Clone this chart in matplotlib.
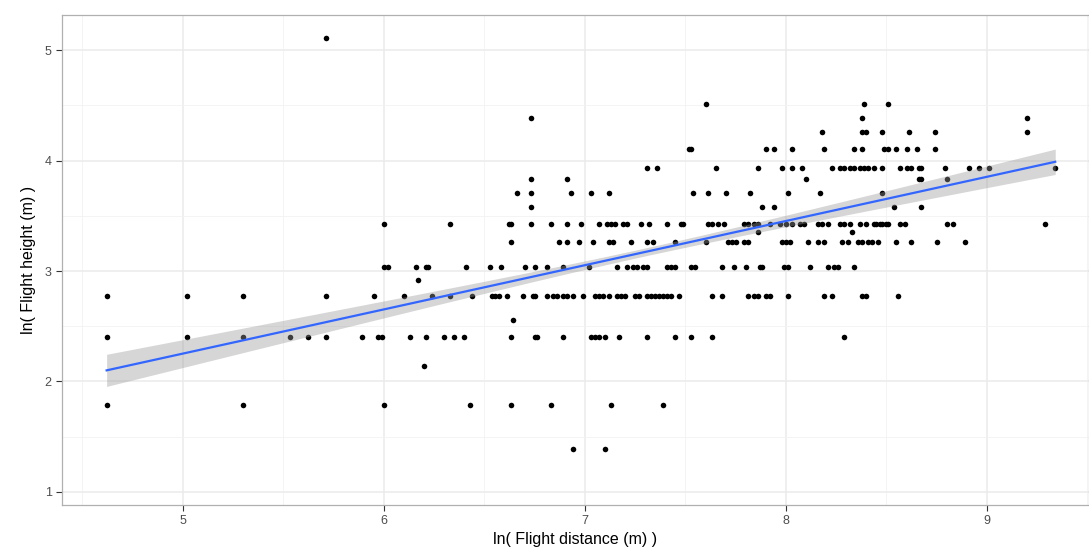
import numpy as np
import matplotlib
matplotlib.use("Agg")
import matplotlib.pyplot as plt
from matplotlib.ticker import MultipleLocator

# ---- data: ln(flight distance) values grouped by ln(flight height) level ----
h_511 = [5.71]
h_451 = [7.60, 8.39, 8.51]
h_439 = [6.73, 8.38, 9.20]
h_426 = [8.18, 8.38, 8.40, 8.48, 8.61, 8.74, 9.20]
h_411 = [7.52, 7.53, 7.90, 7.94, 8.03, 8.19, 8.34, 8.38, 8.49, 8.51, 8.55, 8.60, 8.65, 8.74]
h_393 = [7.31, 7.36, 7.65, 7.86, 7.98, 8.03, 8.08, 8.23, 8.27, 8.29, 8.32, 8.34, 8.37,
         8.39, 8.41, 8.44, 8.48, 8.57, 8.60, 8.62, 8.66, 8.67, 8.79, 8.91, 8.96, 9.01, 9.34]
h_383 = [6.73, 6.91, 8.10, 8.66, 8.67, 8.80]
h_371 = [6.66, 6.73, 6.93, 7.03, 7.12, 7.54, 7.61, 7.70, 7.82, 8.01, 8.17, 8.48]
h_358 = [6.73, 7.88, 7.94, 8.54, 8.67]
h_343 = [6.00, 6.33, 6.62, 6.63, 6.73, 6.83, 6.91, 6.98, 7.07, 7.11, 7.13, 7.15, 7.19,
         7.21, 7.28, 7.32, 7.41, 7.48, 7.49, 7.61, 7.63, 7.66, 7.69, 7.79, 7.81, 7.84,
         7.86, 7.92, 7.97, 8.00, 8.03, 8.07, 8.09, 8.16, 8.18, 8.21, 8.27, 8.29, 8.32,
         8.37, 8.40, 8.44, 8.45, 8.47, 8.48, 8.50, 8.51, 8.57, 8.59, 8.80, 8.83, 9.29]
h_335 = [7.86, 8.33]
h_326 = [6.63, 6.87, 6.91, 6.97, 7.04, 7.12, 7.14, 7.23, 7.31, 7.34, 7.45, 7.60, 7.71,
         7.73, 7.75, 7.79, 7.81, 7.98, 8.00, 8.02, 8.11, 8.16, 8.19, 8.28, 8.31, 8.36,
         8.38, 8.41, 8.43, 8.46, 8.55, 8.62, 8.75, 8.89]
h_304 = [6.00, 6.02, 6.16, 6.21, 6.22, 6.41, 6.53, 6.58, 6.70, 6.75, 6.81, 6.89, 7.02,
         7.16, 7.21, 7.24, 7.26, 7.29, 7.31, 7.41, 7.43, 7.45, 7.53, 7.55, 7.68, 7.74,
         7.80, 7.87, 7.88, 7.99, 8.01, 8.12, 8.21, 8.24, 8.26, 8.34]
h_292 = [6.17]
h_277 = [4.62, 5.02, 5.30, 5.71, 5.95, 6.10, 6.24, 6.33, 6.44, 6.54, 6.55, 6.57, 6.61,
         6.69, 6.74, 6.75, 6.81, 6.84, 6.86, 6.89, 6.91, 6.94, 6.99, 7.05, 7.07, 7.09,
         7.12, 7.16, 7.18, 7.20, 7.25, 7.27, 7.31, 7.33, 7.35, 7.37, 7.39, 7.41, 7.43,
         7.47, 7.63, 7.68, 7.81, 7.84, 7.86, 7.90, 7.92, 8.01, 8.19, 8.23, 8.38, 8.40, 8.56]
h_256 = [6.64]
h_240 = [4.62, 5.02, 5.30, 5.53, 5.62, 5.71, 5.89, 5.97, 5.99, 6.13, 6.21, 6.30, 6.35,
         6.40, 6.63, 6.75, 6.76, 6.89, 7.03, 7.05, 7.07, 7.10, 7.17, 7.31, 7.45, 7.53,
         7.63, 8.29]
h_214 = [6.20]
h_179 = [4.62, 5.30, 6.00, 6.43, 6.63, 6.83, 7.13, 7.39]
h_139 = [6.94, 7.10]

levels = [(5.11, h_511), (4.51, h_451), (4.39, h_439), (4.26, h_426), (4.11, h_411),
          (3.93, h_393), (3.83, h_383), (3.71, h_371), (3.58, h_358), (3.43, h_343),
          (3.35, h_335), (3.26, h_326), (3.04, h_304), (2.92, h_292), (2.77, h_277),
          (2.56, h_256), (2.40, h_240), (2.14, h_214), (1.79, h_179), (1.39, h_139)]

# ---- fitted linear trend (full data has overlapping points) ----
fit_x_range = [4.62, 9.34]        # span of the smoother
fit_y_ends = [2.10, 3.99]         # fitted values at the span ends
band_center = 7.28                # x where the 95% band is narrowest
band_min_half = 0.036             # half-width of band at its narrowest
band_spread = 0.053               # growth of the half-width away from the centre

x = np.concatenate([np.array(xs, float) for _, xs in levels])
y = np.concatenate([np.full(len(xs), lv) for lv, xs in levels])

slope = (fit_y_ends[1] - fit_y_ends[0]) / (fit_x_range[1] - fit_x_range[0])
xg = np.linspace(fit_x_range[0], fit_x_range[1], 200)
yg = fit_y_ends[0] + slope * (xg - fit_x_range[0])
half = np.sqrt(band_min_half ** 2 + band_spread ** 2 * (xg - band_center) ** 2)

plt.rcParams['font.family'] = ['Liberation Sans', 'DejaVu Sans']
fig = plt.figure(figsize=(10.89, 5.52), dpi=100)
ax = fig.add_axes([62 / 1089, 1 - 505 / 552, 1 - 62 / 1089, (505 - 15) / 552])

ax.set_xlim(4.398, 9.508)
ax.set_ylim(0.88, 5.32)
ax.xaxis.set_major_locator(MultipleLocator(1))
ax.xaxis.set_minor_locator(MultipleLocator(0.5))
ax.yaxis.set_major_locator(MultipleLocator(1))
ax.yaxis.set_minor_locator(MultipleLocator(0.5))
ax.grid(which='major', color='#EBEBEB', lw=1.1)
ax.grid(which='minor', color='#F2F2F2', lw=0.6)
ax.set_axisbelow(True)

ax.scatter(x, y, s=16, color='black', linewidths=0, zorder=3)
ax.fill_between(xg, yg - half, yg + half, color='#999999', alpha=0.4,
                linewidth=0, zorder=4)
ax.plot(xg, yg, color='#3366FF', lw=1.6, zorder=5)

for sp in ax.spines.values():
    sp.set_color('#B0B0B0')
    sp.set_linewidth(0.9)

ax.tick_params(which='major', length=4, width=0.8, color='#333333',
               labelsize=9, labelcolor='#4D4D4D')
ax.tick_params(which='minor', length=0)
ax.set_xlabel('ln( Flight distance (m) )', fontsize=11.5, color='black', labelpad=3)
ax.set_ylabel('ln( Flight height (m) )', fontsize=11.5, color='black', labelpad=6)

fig.savefig('out.png', dpi=100)
